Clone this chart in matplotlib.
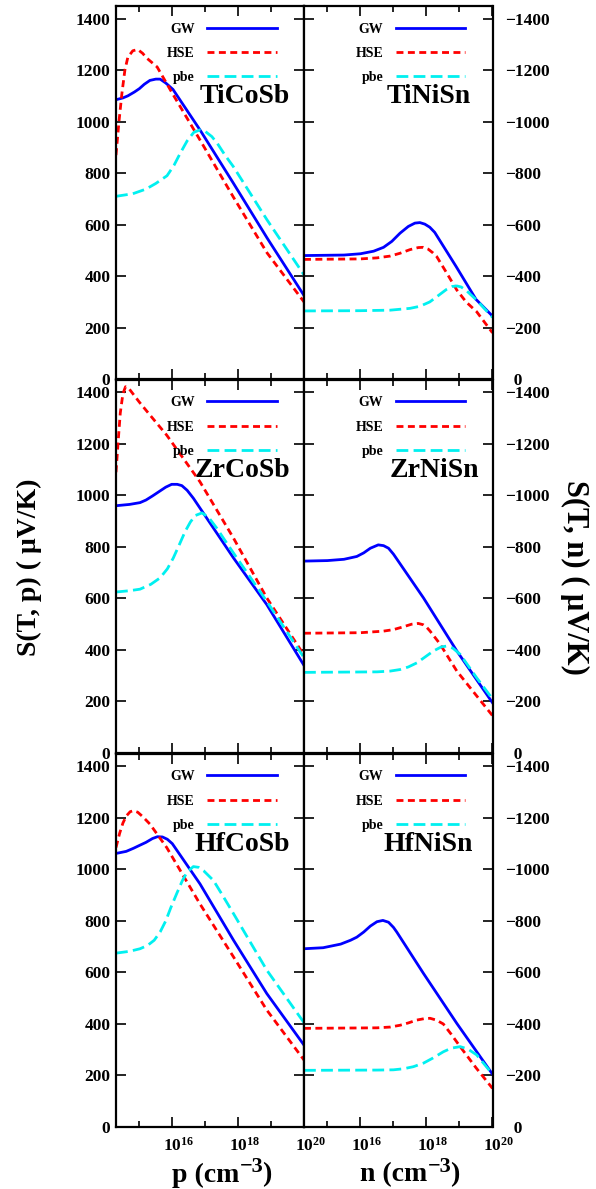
import numpy as np
import matplotlib
matplotlib.use('Agg')
import matplotlib.pyplot as plt
import matplotlib.transforms as mtransforms
from matplotlib.ticker import FixedLocator, NullFormatter, FuncFormatter

# 字体：Times 风格粗体
plt.rcParams['font.family'] = ['Liberation Serif', 'DejaVu Serif']
plt.rcParams['font.weight'] = 'bold'
plt.rcParams['mathtext.fontset'] = 'custom'
plt.rcParams['mathtext.rm'] = 'Liberation Serif:bold'
plt.rcParams['mathtext.it'] = 'Liberation Serif:bold:italic'
plt.rcParams['mathtext.bf'] = 'Liberation Serif:bold'
plt.rcParams['mathtext.default'] = 'rm'
plt.rcParams['lines.scale_dashes'] = False
plt.rcParams['axes.unicode_minus'] = True

# ---- 数据：log10(载流子浓度 / cm^-3) 与 Seebeck 系数 (μV/K) ----
# p 型
ticosb_gw_x = [14.29, 14.5, 14.65, 14.85, 15.0, 15.15, 15.32, 15.5, 15.63, 15.8, 16.02, 16.84, 17.85, 18.88, 20.0]
ticosb_gw_s = [1085, 1092, 1100, 1115, 1128, 1145, 1160, 1165, 1165, 1150, 1125, 968, 762, 548, 325]
ticosb_hse_x = [14.29, 14.38, 14.47, 14.56, 14.65, 14.8, 14.95, 15.1, 15.22, 15.54, 16.0, 16.84, 17.85, 18.88, 20.0]
ticosb_hse_s = [870, 1000, 1110, 1200, 1250, 1275, 1280, 1265, 1247, 1212, 1110, 929, 708, 490, 300]
ticosb_pbe_x = [14.29, 14.8, 15.2, 15.5, 15.84, 16.05, 16.24, 16.45, 16.65, 16.84, 17.0, 17.2, 17.36, 17.6, 17.85, 18.88, 20.0]
ticosb_pbe_s = [710, 720, 738, 760, 790, 830, 877, 925, 958, 968, 962, 942, 917, 870, 826, 618, 405]

zrcosb_gw_x = [14.29, 14.7, 15.02, 15.2, 15.4, 15.6, 15.8, 15.98, 16.15, 16.29, 16.45, 16.64, 17.86, 18.87, 20.0]
zrcosb_gw_s = [960, 965, 972, 982, 998, 1015, 1032, 1043, 1043, 1038, 1020, 989, 757, 576, 340]
zrcosb_hse_x = [14.29, 14.35, 14.42, 14.5, 14.58, 14.7, 15.0, 15.4, 15.83, 16.84, 17.86, 18.87, 20.0]
zrcosb_hse_s = [1090, 1200, 1320, 1395, 1422, 1412, 1362, 1300, 1234, 1053, 834, 602, 380]
zrcosb_pbe_x = [14.29, 14.7, 15.02, 15.35, 15.63, 15.85, 16.03, 16.2, 16.39, 16.55, 16.7, 16.9, 17.1, 17.35, 17.6, 17.86, 18.87, 20.0]
zrcosb_pbe_s = [625, 630, 636, 655, 680, 715, 757, 805, 860, 897, 922, 932, 915, 873, 825, 776, 589, 370]

hfcosb_gw_x = [14.29, 14.6, 14.82, 15.0, 15.2, 15.4, 15.55, 15.7, 15.85, 16.0, 16.84, 17.86, 18.87, 20.0]
hfcosb_gw_s = [1062, 1070, 1082, 1093, 1105, 1120, 1127, 1126, 1117, 1100, 944, 725, 518, 318]
hfcosb_hse_x = [14.29, 14.4, 14.5, 14.6, 14.72, 14.82, 14.95, 15.1, 15.32, 15.55, 15.83, 16.84, 17.86, 18.87, 20.0]
hfcosb_hse_s = [1085, 1140, 1180, 1207, 1224, 1228, 1222, 1205, 1176, 1135, 1085, 866, 660, 454, 260]
hfcosb_pbe_x = [14.29, 14.7, 15.02, 15.25, 15.45, 15.63, 15.8, 15.95, 16.13, 16.3, 16.45, 16.64, 16.8, 16.95, 17.25, 17.5, 17.86, 18.87, 20.0]
hfcosb_pbe_s = [675, 682, 692, 705, 725, 757, 800, 850, 905, 955, 990, 1011, 1008, 995, 957, 905, 828, 609, 405]

# n 型（S 为负）
tinisn_gw_x = [14.29, 15.5, 16.0, 16.4, 16.7, 16.95, 17.2, 17.45, 17.65, 17.8, 17.95, 18.1, 18.25, 18.9, 19.5, 20.0]
tinisn_gw_s = [-480, -482, -487, -497, -512, -535, -567, -593, -606, -608, -602, -590, -570, -437, -310, -245]
tinisn_hse_x = [14.29, 16.0, 16.5, 16.9, 17.2, 17.5, 17.75, 17.9, 18.05, 18.2, 18.31, 18.6, 18.92, 19.2, 19.52, 20.0]
tinisn_hse_s = [-465, -467, -471, -478, -489, -503, -511, -512, -505, -490, -476, -415, -346, -300, -262, -180]
tinisn_pbe_x = [14.29, 16.0, 16.9, 17.5, 17.8, 18.1, 18.31, 18.6, 18.78, 18.92, 19.05, 19.2, 19.52, 20.0]
tinisn_pbe_s = [-265, -266, -268, -275, -283, -300, -320, -348, -360, -362, -358, -345, -307, -240]

zrnisn_gw_x = [14.29, 15.0, 15.5, 15.89, 16.1, 16.3, 16.54, 16.7, 16.85, 17.0, 17.91, 18.92, 20.0]
zrnisn_gw_s = [-745, -747, -752, -763, -777, -795, -808, -805, -795, -772, -602, -396, -195]
zrnisn_hse_x = [14.29, 16.0, 16.69, 17.0, 17.3, 17.55, 17.75, 17.9, 18.0, 18.11, 18.4, 18.92, 19.5, 20.0]
zrnisn_hse_s = [-465, -467, -473, -479, -490, -500, -503, -498, -489, -473, -425, -318, -225, -145]
zrnisn_pbe_x = [14.29, 16.5, 16.9, 17.2, 17.45, 17.71, 17.95, 18.21, 18.45, 18.61, 18.8, 19.02, 19.52, 20.0]
zrnisn_pbe_s = [-313, -315, -318, -324, -334, -350, -372, -396, -412, -415, -407, -383, -292, -210]

hfnisn_gw_x = [14.29, 14.87, 15.4, 15.7, 15.89, 16.1, 16.3, 16.5, 16.68, 16.85, 17.0, 17.1, 17.91, 18.92, 20.0]
hfnisn_gw_s = [-692, -696, -710, -725, -737, -757, -780, -797, -802, -795, -775, -757, -596, -402, -205]
hfnisn_hse_x = [14.29, 16.5, 16.9, 17.2, 17.45, 17.7, 17.95, 18.11, 18.3, 18.51, 18.75, 19.02, 19.5, 20.0]
hfnisn_hse_s = [-383, -385, -388, -395, -404, -415, -421, -422, -415, -400, -360, -312, -230, -150]
hfnisn_pbe_x = [14.29, 16.5, 17.0, 17.3, 17.6, 17.91, 18.2, 18.51, 18.75, 19.02, 19.25, 19.52, 20.0]
hfnisn_pbe_s = [-220, -221, -222, -226, -234, -248, -268, -292, -306, -312, -303, -280, -205]

compounds = ['TiCoSb', 'TiNiSn', 'ZrCoSb', 'ZrNiSn', 'HfCoSb', 'HfNiSn']
methods = ['GW', 'HSE', 'pbe']
curves = {
    'TiCoSb': [(ticosb_gw_x, ticosb_gw_s), (ticosb_hse_x, ticosb_hse_s), (ticosb_pbe_x, ticosb_pbe_s)],
    'TiNiSn': [(tinisn_gw_x, tinisn_gw_s), (tinisn_hse_x, tinisn_hse_s), (tinisn_pbe_x, tinisn_pbe_s)],
    'ZrCoSb': [(zrcosb_gw_x, zrcosb_gw_s), (zrcosb_hse_x, zrcosb_hse_s), (zrcosb_pbe_x, zrcosb_pbe_s)],
    'ZrNiSn': [(zrnisn_gw_x, zrnisn_gw_s), (zrnisn_hse_x, zrnisn_hse_s), (zrnisn_pbe_x, zrnisn_pbe_s)],
    'HfCoSb': [(hfcosb_gw_x, hfcosb_gw_s), (hfcosb_hse_x, hfcosb_hse_s), (hfcosb_pbe_x, hfcosb_pbe_s)],
    'HfNiSn': [(hfnisn_gw_x, hfnisn_gw_s), (hfnisn_hse_x, hfnisn_hse_s), (hfnisn_pbe_x, hfnisn_pbe_s)],
}
s_ticks = [0, 200, 400, 600, 800, 1000, 1200, 1400]

# 线型
styles = [
    dict(color='#0000ff', lw=2.0, ls='-'),
    dict(color='#ff0000', lw=2.0, dashes=(5.0, 3.2)),
    dict(color='#00f0f0', lw=2.0, dashes=(8.5, 3.8)),
]
name_x = [0.443, 0.439, 0.416, 0.456, 0.42, 0.424]


def fmt_left(v, p):
    return f'{v:.0f}'


def fmt_right(v, p):
    # 右侧 0 不带负号，往右让一点
    if v == 0:
        return '  0'
    return f'{v:.0f}'.replace('-', '\u2212')


W, H = 596, 1189
fig = plt.figure(figsize=(W / 100, H / 100), dpi=100)
col_edges = [116, 304, 492.5]
row_tops = [5.7, 379.5, 753.5]
row_h = 373.5

axes = []
for k, name in enumerate(compounds):
    row, col = k // 2, k % 2
    x0 = col_edges[col]
    ax = fig.add_axes([x0 / W, 1 - (row_tops[row] + row_h) / H,
                       (col_edges[col + 1] - x0) / W, row_h / H])
    axes.append(ax)

    for (lx, s), lab, st in zip(curves[name], methods, styles):
        ax.plot(10 ** np.array(lx), s, label=lab, solid_joinstyle='round',
                dash_joinstyle='round', **st)

    ax.set_xscale('log')
    ax.set_xlim(10 ** 14.29, 1e20)
    ax.set_xticks([1e16, 1e18, 1e20])
    ax.xaxis.set_minor_locator(FixedLocator([1e15, 1e17, 1e19]))
    ax.xaxis.set_minor_formatter(NullFormatter())

    sign = 1 if col == 0 else -1
    ax.yaxis.set_major_locator(FixedLocator([sign * v for v in s_ticks]))
    ax.yaxis.set_major_formatter(FuncFormatter(fmt_left if col == 0 else fmt_right))
    if col == 0:
        ax.set_ylim(0, 1450)
    else:
        ax.set_ylim(0, -1450)

    ax.tick_params(which='both', direction='in', top=True, right=True,
                   width=1.2, labelsize=12.5, pad=4)
    ax.tick_params(which='major', length=7)
    ax.tick_params(which='minor', length=4.5)
    ax.tick_params(axis='x', pad=7)
    if col == 1:
        ax.tick_params(axis='y', labelleft=False, labelright=True, pad=9)
    if row < 2:
        ax.tick_params(axis='x', labelbottom=False)
    for sp in ax.spines.values():
        sp.set_linewidth(1.6)

    ax.legend(loc='upper right', bbox_to_anchor=(0.855, 0.955), markerfirst=False,
              frameon=False, fontsize=10, handlelength=5.0, handletextpad=0.9,
              labelspacing=0.82, borderpad=0, borderaxespad=0)
    ax.text(name_x[k], 0.756, name, transform=ax.transAxes, fontsize=20,
            ha='left', va='center')

# 底部刻度标签稍向右偏
shift = mtransforms.ScaledTranslation(4.6 / 72, 0, fig.dpi_scale_trans)
for ax in axes[4:]:
    for t in ax.xaxis.get_major_ticks():
        t.label1.set_transform(t.label1.get_transform() + shift)

fig.text(29 / W, 1 - 567 / H, 'S(T, p) ( \u03bcV/K)', rotation=90, fontsize=20,
         ha='center', va='center')
fig.text(575 / W, 1 - 577 / H, 'S(T, n) ( \u03bcV/K)', rotation=-90, fontsize=22,
         ha='center', va='center')

# x 轴标题：上标单独放大
renderer = fig.canvas.get_renderer()


def x_title(x_px, base_px, letter):
    t1 = fig.text(x_px / W, 1 - base_px / H, letter + ' (cm', fontsize=20, va='baseline')
    e1 = t1.get_window_extent(renderer)
    t2 = fig.text((e1.x1 + 0.5) / W, 1 - (base_px - 10) / H, '\u22123', fontsize=16,
                  va='baseline')
    e2 = t2.get_window_extent(renderer)
    fig.text((e2.x1 - 1.5) / W, 1 - base_px / H, ')', fontsize=20, va='baseline')


x_title(171.7, 1181.5, 'p')
x_title(360, 1181.5, 'n')

fig.savefig('out.png', dpi=100)
